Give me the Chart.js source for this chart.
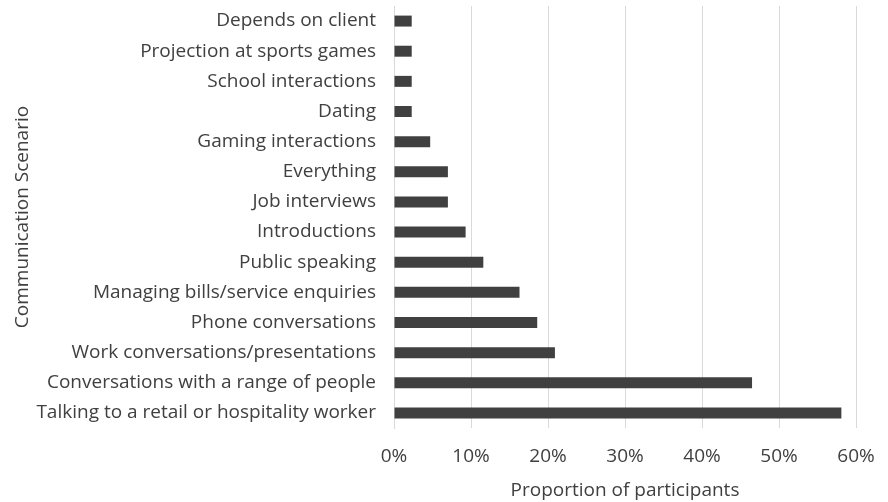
<!DOCTYPE html>
<html>
<head>
<meta charset="utf-8">
<script src="https://cdn.jsdelivr.net/npm/chart.js@4/dist/chart.umd.min.js"></script>
<style>
  html, body { margin: 0; padding: 0; background: #fff; }
  #wrap { width: 888px; height: 502px; }
</style>
</head>
<body>
<div id="wrap"><canvas id="chart" width="888" height="502"></canvas></div>
<script>
// Communication scenarios, top to bottom as shown
const scenarios = [
    'Depends on client',
    'Projection at sports games',
    'School interactions',
    'Dating',
    'Gaming interactions',
    'Everything',
    'Job interviews',
    'Introductions',
    'Public speaking',
    'Managing bills/service enquiries',
    'Phone conversations',
    'Work conversations/presentations',
    'Conversations with a range of people',
    'Talking to a retail or hospitality worker'
];

// Proportion of participants (%)
const proportions = [2.3, 2.3, 2.3, 2.3, 4.7, 7.0, 7.0, 9.3, 11.6, 16.3, 18.6, 20.9, 46.5, 58.1];

const xTicks = [0, 10, 20, 30, 40, 50, 60];

const textColor = '#404040';
const fontFamily = '"Open Sans", sans-serif';
const fontSize = 19;

new Chart(document.getElementById('chart'), {
    type: 'bar',
    data: {
        labels: scenarios,
        datasets: [{
            data: proportions,
            backgroundColor: '#404040',
            borderWidth: 0,
            barPercentage: 0.7,
            categoryPercentage: 0.52
        }]
    },
    options: {
        indexAxis: 'y',
        responsive: false,
        animation: false,
        layout: { padding: { top: 6, right: 32, bottom: 0, left: 0 } },
        plugins: {
            legend: { display: false },
            tooltip: { enabled: false }
        },
        scales: {
            x: {
                min: 0,
                max: 60,
                afterBuildTicks: (axis) => {
                    axis.ticks = xTicks.map(v => ({ value: v }));
                },
                afterFit: (axis) => {
                    axis.height = 74;
                    axis.paddingLeft = 0;
                    axis.paddingRight = 0;
                },
                grid: { color: '#d9d9d9', lineWidth: 1, drawTicks: false },
                border: { display: false },
                ticks: {
                    padding: 17,
                    color: textColor,
                    font: { family: fontFamily, size: fontSize },
                    callback: (v) => v + '%'
                },
                title: {
                    display: true,
                    text: 'Proportion of participants',
                    color: textColor,
                    font: { family: fontFamily, size: fontSize },
                    padding: { top: 0, bottom: 0 }
                }
            },
            y: {
                afterFit: (axis) => {
                    axis.width = 394;
                    axis.paddingTop = 0;
                    axis.paddingBottom = 0;
                },
                grid: { display: false, drawTicks: false },
                border: { display: true, color: '#d9d9d9' },
                ticks: {
                    padding: 18,
                    color: textColor,
                    font: { family: fontFamily, size: fontSize },
                    autoSkip: false
                },
                title: {
                    display: true,
                    text: 'Communication Scenario',
                    color: textColor,
                    font: { family: fontFamily, size: fontSize },
                    padding: { top: 11, bottom: 0 }
                }
            }
        }
    }
});
</script>
</body>
</html>
